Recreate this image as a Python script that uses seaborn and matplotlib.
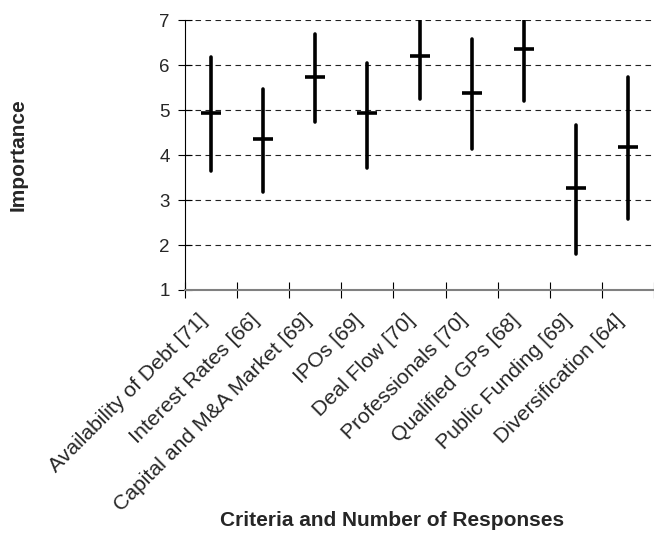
import numpy as np
import pandas as pd
import seaborn as sns
import matplotlib.pyplot as plt
import matplotlib.transforms as mtransforms
from matplotlib.ticker import FixedLocator

# --- data ---
criteria = ['Availability of Debt [71]', 'Interest Rates [66]', 'Capital and M&A Market [69]',
            'IPOs [69]', 'Deal Flow [70]', 'Professionals [70]', 'Qualified GPs [68]',
            'Public Funding [69]', 'Diversification [64]']
mean_vals = [4.93, 4.36, 5.74, 4.93, 6.20, 5.38, 6.37, 3.26, 4.18]
low_vals = [3.64, 3.18, 4.74, 3.72, 5.24, 4.13, 5.21, 1.80, 2.58]
high_vals = [6.18, 5.48, 6.69, 6.05, 7.00, 6.58, 7.00, 4.67, 5.74]

# long table: low / mean / high per criterion -> median = mean, min/max = range
rows = []
for c, lo, m, hi in zip(criteria, low_vals, mean_vals, high_vals):
    for v in (lo, m, hi):
        rows.append({'Criteria': c, 'Importance': v})
df = pd.DataFrame(rows)

sns.set_theme(style="white")
plt.rcParams['font.family'] = ['Liberation Sans', 'DejaVu Sans']

fig = plt.figure(figsize=(6.54, 5.33), dpi=100)
ax = fig.add_axes([0.283, 0.456, 0.717, 0.506])

sns.pointplot(data=df, x='Criteria', y='Importance', order=criteria,
              estimator=np.median, errorbar=lambda x: (x.min(), x.max()),
              linestyle='none', marker='_', markersize=14, markeredgewidth=2.6,
              color='black', err_kws={'linewidth': 2.6}, ax=ax)

ax.set_ylim(1, 7)
ax.set_xlim(-0.5, len(criteria) - 0.5)
ax.set_yticks(range(1, 8))
ax.tick_params(axis='y', labelsize=13.5, length=10, width=0.8, direction='inout',
               left=True, color='black', pad=6)

# labels at centres, tick marks at category boundaries
ax.set_xticks(range(len(criteria)))
ax.set_xticklabels(criteria, rotation=45, ha='right', rotation_mode='anchor', fontsize=15.3)
ax.tick_params(axis='x', which='major', length=0, pad=15)
shift = mtransforms.ScaledTranslation(-14 / 100, 0, fig.dpi_scale_trans)
for lbl in ax.get_xticklabels():
    lbl.set_transform(lbl.get_transform() + shift)
ax.xaxis.set_minor_locator(FixedLocator(np.arange(-0.5, len(criteria), 1.0)))
ax.tick_params(axis='x', which='minor', length=12, width=0.8, direction='inout', bottom=True, color='black')

ax.yaxis.grid(True, linestyle=(0, (5, 4)), color='#222222', linewidth=0.8)
ax.set_axisbelow(True)
for s in ['top', 'right']:
    ax.spines[s].set_visible(False)
ax.spines['left'].set_color('black')
ax.spines['left'].set_linewidth(0.8)
ax.spines['bottom'].set_color('#808080')
ax.spines['bottom'].set_linewidth(1.5)

ax.set_xlabel('')
ax.set_ylabel('')
fig.text(0.028, 0.71, 'Importance', rotation=90, ha='center', va='center',
         fontsize=15, fontweight='bold')
fig.text(0.6, 0.024, 'Criteria and Number of Responses', ha='center', va='center',
         fontsize=15, fontweight='bold')

plt.savefig('out.png', dpi=100)
